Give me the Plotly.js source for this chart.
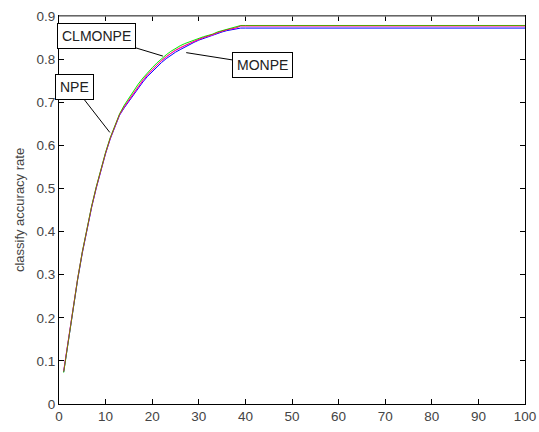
<!DOCTYPE html>
<html>
<head>
<meta charset="utf-8">
<script src="https://cdn.plot.ly/plotly-3.0.1.min.js"></script>
<style>html,body{margin:0;padding:0;background:#fff;}#chart{width:539px;height:432px;}</style>
</head>
<body>
<div id="chart"></div>
<script>
// Number of features (x) and classification accuracy for each method
var dims = [1,2,3,4,5,6,7,8,9,10,11,12,13,14,15,16,17,18,19,20,21,22,23,24,25,26,27,28,29,30,31,32,33,34,35,36,37,38,39,40,100];

var seriesBlue = [0.074,0.149,0.221,0.288,0.350,0.406,0.456,0.501,0.543,0.581,0.615,0.645,0.670,0.687,0.702,0.718,0.733,0.747,0.760,0.771,0.782,0.792,0.801,0.809,0.816,0.822,0.828,0.834,0.839,0.844,0.848,0.852,0.855,0.859,0.863,0.866,0.868,0.871,0.872,0.872,0.872];
var seriesMagenta = [0.077,0.152,0.224,0.291,0.352,0.407,0.457,0.502,0.544,0.582,0.616,0.646,0.671,0.689,0.705,0.721,0.736,0.750,0.763,0.775,0.786,0.796,0.805,0.813,0.820,0.826,0.831,0.836,0.841,0.846,0.850,0.853,0.856,0.861,0.865,0.868,0.870,0.872,0.877,0.877,0.877];
var seriesGreen = [0.073,0.148,0.221,0.290,0.353,0.409,0.459,0.504,0.546,0.584,0.618,0.648,0.673,0.693,0.710,0.726,0.742,0.756,0.769,0.780,0.791,0.801,0.810,0.818,0.825,0.831,0.836,0.840,0.845,0.849,0.852,0.855,0.858,0.863,0.866,0.869,0.871,0.874,0.878,0.878,0.878];
var seriesRed = [0.075,0.150,0.222,0.290,0.352,0.408,0.458,0.503,0.545,0.583,0.617,0.647,0.672,0.690,0.706,0.722,0.738,0.752,0.765,0.776,0.787,0.797,0.806,0.814,0.821,0.827,0.832,0.837,0.842,0.846,0.850,0.854,0.857,0.862,0.865,0.868,0.870,0.873,0.877,0.877,0.877];

var xTicks = [0,10,20,30,40,50,60,70,80,90,100];
var yTicks = [0,0.1,0.2,0.3,0.4,0.5,0.6,0.7,0.8,0.9];
var yTickText = ['0','0.1','0.2','0.3','0.4','0.5','0.6','0.7','0.8','0.9'];

var labels = [
  {text:'CLMONPE', x:22.3, y:0.807, ax:-66, ay:-20},
  {text:'MONPE', x:27.3, y:0.815, ax:76, ay:12},
  {text:'NPE', x:10.9, y:0.630, ax:-35, ay:-45}
];

function tr(y, color, op){
  return {x:dims, y:y, type:'scatter', mode:'lines', line:{color:color, width:1}, opacity:op, showlegend:false, hoverinfo:'skip'};
}
var data = [
  tr(seriesBlue, '#0000ff', 1),
  tr(seriesMagenta, '#ff00ff', 1),
  tr(seriesGreen, '#00ee00', 1),
  tr(seriesRed, '#ff0000', 0.55)
];

var fontFam = '"Liberation Sans", Arial, sans-serif';
var layout = {
  width:539, height:432,
  margin:{l:59, r:14, t:16, b:28},
  paper_bgcolor:'#fff', plot_bgcolor:'#fff',
  font:{family:fontFam, size:13, color:'#444'},
  xaxis:{range:[0,100], tickvals:xTicks, ticks:'inside', ticklen:5, tickcolor:'#000',
         showline:true, linecolor:'#000', linewidth:1, mirror:'ticks', showgrid:false, zeroline:false,
         tickfont:{size:13.5, color:'#444'}, fixedrange:true},
  yaxis:{range:[0,0.9], tickvals:yTicks, ticktext:yTickText, ticks:'inside', ticklen:5, tickcolor:'#000',
         showline:true, linecolor:'#000', linewidth:1, mirror:'ticks', showgrid:false, zeroline:false,
         tickfont:{size:13.5, color:'#444'},
         title:{text:'classify accuracy rate', font:{size:13, color:'#444'}, standoff:8}, fixedrange:true},
  shapes:[{type:'line', xref:'paper', yref:'paper', x0:0, x1:1, y0:1, y1:1, line:{color:'#888', width:1.5}}],
  annotations: labels.map(function(a){
    return {x:a.x, y:a.y, xref:'x', yref:'y', text:a.text, showarrow:true, arrowhead:0, arrowwidth:1,
            arrowcolor:'#000', ax:a.ax, ay:a.ay, standoff:0, bordercolor:'#000', borderwidth:1,
            borderpad:4, bgcolor:'#fff', font:{family:fontFam, size:14, color:'#222'}};
  })
};
Plotly.newPlot('chart', data, layout, {displayModeBar:false, staticPlot:true});
</script>
</body>
</html>
